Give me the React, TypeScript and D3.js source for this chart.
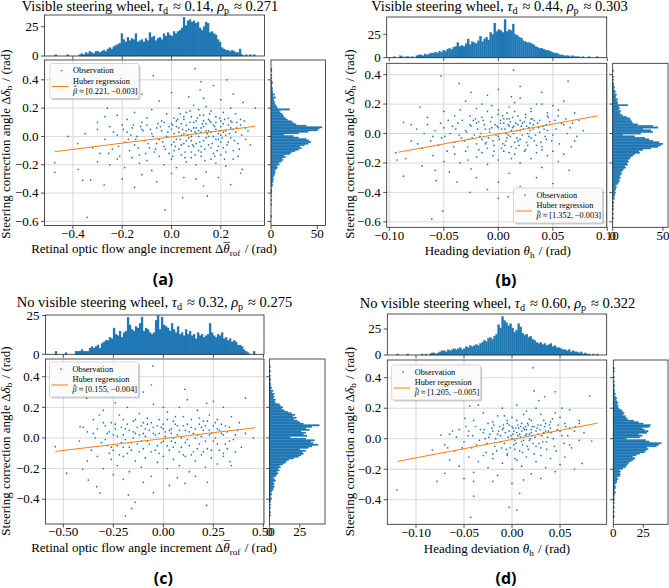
import React from 'react';
import * as d3 from 'd3';

const BLUE = '#1f77b4';
const ORANGE = '#ff7f0e';
const SERIF = '"Liberation Serif", "DejaVu Serif", serif';

const scatterA: [number, number][] = [
  [0.095,0.48],[-0.074,0.43],[0.224,0.40],[0.12,0.387],[-0.42,0.0],[0.34,0.2],[-0.26,0.2],[-0.473,-0.185],[-0.473,-0.253],[-0.378,-0.232],[-0.36,-0.31],[-0.328,-0.307],[-0.273,-0.343],[-0.342,-0.571],[-0.026,-0.52],[0.045,-0.432],[0.145,-0.42],[0.287,-0.232],[0.28,-0.26],
  [0.116,0.33],[0.17,0.36],[0.25,0.3],[0.07,0.28],[-0.12,0.3],[0.2,0.26],[0.29,0.24],[-0.05,0.25],[0.0,0.31],[0.13,0.27],
  [-0.22,0.15],[-0.18,0.12],[-0.15,0.17],[-0.1,0.13],[-0.08,0.19],[-0.04,0.11],[-0.02,0.16],[0.01,0.13],[0.03,0.2],[0.05,0.12],[0.06,0.17],[0.08,0.14],[0.1,0.11],[0.11,0.19],[0.13,0.15],[0.15,0.12],[0.16,0.18],[0.18,0.14],[0.2,0.11],[0.21,0.17],[0.23,0.13],[0.26,0.16],[0.28,0.12],[-0.3,0.1],[-0.27,0.14],[-0.12,0.1],[0.0,0.09],[0.09,0.22],[0.14,0.21],[0.24,0.2],
  [-0.38,-0.05],[-0.35,0.02],[-0.32,-0.08],[-0.3,0.05],[-0.29,-0.12],[-0.27,-0.02],[-0.25,0.07],[-0.24,-0.09],[-0.22,0.01],[-0.21,-0.14],[-0.2,0.08],[-0.19,-0.04],[-0.18,0.03],[-0.17,-0.1],[-0.16,0.06],[-0.15,-0.06],[-0.14,0.0],[-0.13,-0.13],[-0.12,0.05],[-0.11,-0.03],[-0.1,0.08],[-0.09,-0.08],[-0.08,0.02],[-0.07,-0.11],[-0.06,0.06],[-0.05,-0.02],[-0.04,0.04],[-0.03,-0.07],[-0.02,0.0],[-0.01,-0.12],[0.0,0.05],[0.01,-0.04],[0.02,0.07],[0.03,-0.09],[0.04,0.01],[0.05,-0.05],[0.06,0.08],[0.07,-0.01],[0.08,0.04],[0.09,-0.07],[0.1,0.02],[0.11,-0.1],[0.12,0.06],[0.13,-0.03],[0.14,0.09],[0.15,-0.06],[0.16,0.03],[0.17,-0.12],[0.18,0.05],[0.19,-0.02],[0.2,0.07],[0.21,-0.08],[0.22,0.01],[0.23,-0.04],[0.24,0.06],[0.25,-0.1],[0.26,0.03],[0.27,-0.05],[0.28,0.08],[0.3,-0.02],[0.31,0.04],[0.02,-0.02],[0.04,0.09],[0.06,-0.03],[0.08,0.0],[0.1,-0.05],[0.12,0.03],[0.14,-0.01],[0.16,-0.08],[0.18,0.1],[0.2,-0.04],[0.22,0.04],[0.03,0.03],[0.07,0.05],[0.11,0.0],[0.15,0.04],[0.19,0.02],[0.09,0.1],[0.13,0.07],[0.05,0.02],[-0.01,0.07],[-0.06,-0.05],[0.0,-0.06],[0.17,0.0],[0.21,0.09],[0.24,-0.01],[0.12,-0.07],[0.08,-0.11],[-0.03,0.1],[0.01,0.02],
  [-0.3,-0.18],[-0.25,-0.2],[-0.22,-0.16],[-0.19,-0.22],[-0.16,-0.15],[-0.13,-0.19],[-0.1,-0.17],[-0.08,-0.24],[-0.05,-0.14],[-0.03,-0.2],[0.0,-0.16],[0.02,-0.22],[0.04,-0.13],[0.06,-0.18],[0.08,-0.15],[0.1,-0.2],[0.12,-0.14],[0.14,-0.25],[0.16,-0.16],[0.18,-0.19],[0.2,-0.13],[0.22,-0.21],[0.25,-0.16],[0.27,-0.14],[-0.12,-0.27],[0.05,-0.29],[0.1,-0.3],[0.19,-0.29],[-0.2,-0.3],[-0.06,-0.32],[0.13,-0.35],[0.24,-0.34],[-0.15,-0.36],[0.0,-0.26],
  [0.005,0.08],[0.015,-0.07],[0.025,0.12],[0.035,-0.02],[0.045,0.05],[0.055,-0.11],[0.065,0.01],[0.075,0.1],[0.085,-0.06],[0.095,0.03],[0.105,0.13],[0.115,-0.04],[0.125,0.09],[0.135,-0.09],[0.145,0.02],[0.155,0.11],[0.165,-0.05],[0.175,0.07],[0.185,-0.1],[0.195,0.04],[0.205,-0.01],[0.215,0.12],[0.225,-0.06],[0.235,0.02],[0.245,0.1],[0.255,-0.03],[0.265,0.06],[0.275,-0.09],[0.285,0.01],[0.295,0.11],[0.01,-0.1],[0.03,0.06],[0.05,0.14],[0.07,-0.07],[0.09,0.06],[0.11,0.04],[0.13,0.11],[0.15,0.0],[0.17,0.08],[0.19,-0.07],[0.21,0.03],[0.23,0.08],[0.25,0.05],[0.02,0.11],[0.04,-0.06],[0.06,0.04],[0.08,-0.03],[0.1,0.06],[0.12,-0.11],[0.14,0.04],[0.16,0.1],[0.18,-0.02],[0.2,0.01],[0.22,-0.11],[0.24,0.11],[-0.015,0.03],[-0.035,-0.04],[-0.055,0.09],[-0.075,0.0],[-0.095,-0.05],[-0.115,0.04],[-0.135,-0.08],[-0.155,0.08],[-0.175,-0.02],[-0.195,0.05],[-0.215,-0.07],[-0.235,0.03],[-0.255,-0.12],[-0.045,0.07],[-0.065,-0.09],[-0.085,0.05],[-0.105,-0.12],[-0.125,0.07],[-0.145,-0.02],[-0.165,0.01],[0.035,0.16],[0.075,0.18],[0.115,0.15],[0.155,0.16],[0.195,0.13],[0.055,-0.15],[0.095,-0.13],[0.135,-0.17],[0.175,-0.14],[0.215,-0.16],[-0.025,-0.09],[0.005,-0.14],[0.265,0.1],[0.3,0.06],[0.32,-0.06],
];

const scatterB: [number, number][] = [
  [-0.0526,0.39],[0.014,0.43],[0.064,0.356],[-0.036,0.34],[-0.087,0.076],[-0.072,0.18],[-0.087,-0.29],[-0.058,-0.25],[-0.057,-0.32],[-0.051,-0.526],[-0.061,-0.58],[-0.026,-0.40],[0.0,-0.44],[0.009,-0.43],[0.067,-0.09],[0.05,-0.34],[-0.093,-0.18],[-0.094,-0.13],[0.04,0.2],
  [-0.03,0.22],[-0.01,0.26],[0.01,0.18],[0.02,0.24],[0.03,0.15],[0.0,0.13],[-0.02,0.17],[0.04,0.28],[0.05,0.19],[-0.04,0.12],[0.015,0.21],[-0.015,0.11],[0.025,0.13],[0.035,0.2],[0.045,0.12],[0.055,0.16],[-0.05,0.15],[-0.025,0.28],[0.0,0.3],[0.02,0.32],[0.01,0.1],[-0.006,0.19],[0.008,0.14],[0.03,0.1],[0.06,0.22],[-0.065,0.11],[-0.035,0.16],[0.07,0.14],[-0.01,0.15],[0.012,0.25],
  [-0.08,-0.05],[-0.075,0.03],[-0.07,-0.1],[-0.065,0.06],[-0.06,-0.02],[-0.055,-0.08],[-0.05,0.04],[-0.047,-0.12],[-0.044,0.0],[-0.04,-0.06],[-0.037,0.07],[-0.034,-0.03],[-0.03,0.02],[-0.028,-0.09],[-0.025,0.05],[-0.022,-0.01],[-0.02,-0.07],[-0.018,0.08],[-0.015,-0.04],[-0.012,0.03],[-0.01,-0.1],[-0.008,0.01],[-0.005,-0.05],[-0.003,0.06],[0.0,-0.02],[0.002,0.09],[0.004,-0.07],[0.006,0.03],[0.008,-0.03],[0.01,0.05],[0.012,-0.09],[0.014,0.0],[0.016,0.07],[0.018,-0.05],[0.02,0.02],[0.022,-0.01],[0.024,0.08],[0.026,-0.06],[0.028,0.04],[0.03,-0.03],[0.032,0.06],[0.035,-0.08],[0.038,0.01],[0.041,0.05],[0.044,-0.04],[0.047,0.08],[0.05,-0.01],[0.053,0.03],[0.056,-0.07],[0.06,0.06],[0.063,0.0],[0.066,0.04],[0.07,-0.05],[0.074,0.09],[0.078,0.02],[-0.006,0.04],[0.001,0.0],[0.005,0.07],[0.009,-0.01],[0.013,0.04],[0.017,0.02],[-0.013,0.06],[-0.017,-0.02],[-0.004,-0.08],[0.021,0.05],[0.027,0.0],[0.033,0.09],[-0.023,0.09],[-0.031,-0.05],[0.003,0.03],[-0.009,-0.03],[0.015,-0.06],[0.04,-0.09],[-0.042,0.05],[-0.052,-0.03],[0.045,0.02],[0.058,0.07],[0.011,0.08],[-0.001,0.05],[0.019,-0.08],[0.007,-0.05],[-0.019,0.03],[0.029,0.07],[0.037,0.04],[-0.027,-0.04],
  [-0.085,-0.17],[-0.07,-0.22],[-0.06,-0.15],[-0.05,-0.19],[-0.045,-0.26],[-0.04,-0.14],[-0.035,-0.2],[-0.03,-0.12],[-0.025,-0.24],[-0.02,-0.16],[-0.015,-0.13],[-0.01,-0.21],[-0.005,-0.15],[0.0,-0.18],[0.005,-0.12],[0.01,-0.27],[0.015,-0.14],[0.02,-0.2],[0.025,-0.11],[0.03,-0.17],[0.035,-0.13],[0.04,-0.23],[0.045,-0.15],[0.05,-0.12],[0.055,-0.19],[0.06,-0.14],[0.065,-0.25],[-0.02,-0.3],[0.0,-0.33],[0.02,-0.36],[-0.038,-0.33],[0.035,-0.3],[-0.01,-0.38],[0.012,-0.17],[-0.028,-0.18],
  [-0.029,0.01],[-0.026,0.06],[-0.024,-0.03],[-0.021,0.1],[-0.016,0.0],[-0.014,0.09],[-0.011,-0.06],[-0.007,0.08],[-0.002,-0.01],[0.0,0.04],[0.003,-0.1],[0.005,0.1],[0.007,0.0],[0.009,0.06],[0.011,-0.02],[0.013,0.11],[0.016,-0.1],[0.018,0.06],[0.02,-0.04],[0.023,0.03],[0.025,0.11],[0.027,-0.08],[0.029,0.02],[0.031,0.1],[0.034,-0.01],[0.036,0.07],[0.039,-0.06],[0.042,0.03],[0.046,0.11],[0.049,-0.05],[0.052,0.09],[-0.033,0.09],[-0.036,-0.01],[-0.039,0.03],[-0.041,-0.09],[-0.046,0.09],[-0.049,-0.02],[-0.053,0.07],[-0.058,0.02],[-0.062,-0.05],[-0.012,-0.07],[-0.006,0.11],[0.002,0.07],[0.008,0.1],[0.014,0.05],[0.02,0.09],[0.026,0.05],[0.032,0.03],[0.038,0.09],[0.044,0.06],[-0.02,0.07],[-0.008,0.03],[0.001,-0.04],[0.006,-0.08],[0.012,0.02],[0.017,-0.03],[0.022,0.07],[0.028,-0.02],[0.033,-0.05],[0.043,-0.02],[-0.018,-0.11],[-0.004,-0.12],[0.01,-0.13],[0.024,-0.12],[0.04,-0.11],[0.004,0.12],[0.018,0.12],[-0.026,0.12],[0.055,0.12],[0.062,0.1],[0.068,0.07],[0.072,-0.02],[-0.068,0.0],[-0.074,-0.07],[-0.08,0.06],[0.0,0.16],[0.015,0.15],[0.03,0.17],[-0.015,0.2],[0.045,0.14],
];

const scatterC: [number, number][] = [
  [-0.053,0.47],[-0.30,0.357],[-0.06,0.346],[0.108,0.318],[-0.383,0.26],[-0.258,0.31],[-0.1,0.3],[0.41,0.26],[0.217,0.227],[-0.416,0.074],
  [-0.54,-0.057],[-0.483,-0.23],[-0.403,-0.205],[-0.375,-0.275],[-0.333,-0.318],[-0.317,-0.36],[-0.175,-0.372],[-0.14,-0.42],[-0.19,-0.51],[-0.158,-0.46],[-0.05,-0.357],[0.217,-0.44],[0.108,-0.296],[0.333,-0.155],[0.45,0.0],[0.41,0.03],
  [-0.35,0.12],[-0.3,0.18],[-0.26,0.1],[-0.22,0.15],[-0.18,0.2],[-0.15,0.11],[-0.12,0.16],[-0.08,0.13],[-0.05,0.22],[-0.02,0.12],[0.02,0.17],[0.05,0.11],[0.08,0.2],[0.1,0.14],[0.14,0.12],[0.17,0.18],[0.2,0.11],[0.23,0.15],[0.27,0.12],[0.3,0.2],[0.34,0.14],[0.38,0.1],[-0.24,0.23],[0.12,0.25],[-0.1,0.1],[0.0,0.2],[0.25,0.24],[-0.32,0.15],[0.06,0.14],[-0.2,0.12],
  [-0.42,-0.02],[-0.38,0.04],[-0.36,-0.08],[-0.33,0.06],[-0.31,-0.03],[-0.29,0.08],[-0.27,-0.1],[-0.25,0.02],[-0.23,-0.05],[-0.21,0.07],[-0.19,-0.01],[-0.17,0.05],[-0.16,-0.08],[-0.14,0.03],[-0.13,-0.04],[-0.11,0.08],[-0.1,-0.07],[-0.09,0.01],[-0.07,0.05],[-0.06,-0.09],[-0.04,0.02],[-0.03,-0.05],[-0.01,0.07],[0.0,-0.02],[0.01,0.04],[0.03,-0.08],[0.04,0.06],[0.06,-0.03],[0.07,0.02],[0.09,-0.06],[0.1,0.08],[0.12,-0.01],[0.13,0.04],[0.15,-0.09],[0.16,0.06],[0.18,-0.04],[0.19,0.01],[0.21,0.08],[0.22,-0.07],[0.24,0.03],[0.25,-0.02],[0.27,0.06],[0.28,-0.08],[0.3,0.02],[0.31,-0.04],[0.33,0.07],[0.35,-0.01],[0.37,0.05],[0.39,-0.06],[-0.34,0.0],[-0.28,0.03],[-0.2,-0.06],[-0.15,0.0],[-0.08,-0.02],[-0.02,0.03],[0.02,-0.05],[0.08,0.05],[0.11,-0.03],[0.17,0.02],[0.2,-0.09],[0.26,0.0],[0.32,0.04],[-0.24,0.06],[-0.12,0.02],[0.05,0.0],[0.14,0.07],[-0.05,0.07],[0.23,0.05],[-0.18,0.09],[0.29,0.09],[-0.4,0.07],[0.36,-0.09],[0.0,0.09],[-0.26,-0.06],[0.18,0.09],
  [-0.38,-0.15],[-0.33,-0.12],[-0.3,-0.2],[-0.26,-0.14],[-0.23,-0.18],[-0.2,-0.12],[-0.17,-0.22],[-0.14,-0.15],[-0.11,-0.19],[-0.09,-0.13],[-0.06,-0.25],[-0.03,-0.16],[0.0,-0.12],[0.02,-0.2],[0.05,-0.14],[0.08,-0.18],[0.11,-0.12],[0.13,-0.22],[0.16,-0.15],[0.19,-0.11],[0.21,-0.19],[0.24,-0.13],[0.27,-0.17],[0.3,-0.12],[0.34,-0.18],[-0.2,-0.27],[0.07,-0.26],[-0.1,-0.29],[0.16,-0.25],[0.22,-0.29],[-0.25,-0.24],[0.03,-0.31],
  [-0.29,-0.01],[-0.27,0.04],[-0.25,-0.08],[-0.23,0.01],[-0.21,-0.03],[-0.19,0.06],[-0.17,-0.06],[-0.15,0.04],[-0.13,0.07],[-0.11,-0.02],[-0.09,0.06],[-0.07,-0.04],[-0.05,0.03],[-0.03,0.08],[-0.01,-0.03],[0.01,0.01],[0.03,0.05],[0.05,-0.06],[0.07,0.08],[0.09,0.0],[0.11,0.05],[0.13,-0.05],[0.15,0.03],[0.17,-0.07],[0.19,0.07],[0.21,-0.02],[0.23,0.02],[0.25,0.08],[0.27,-0.04],[0.29,0.03],[0.31,0.08],[0.33,-0.02],[-0.28,-0.05],[-0.24,0.09],[-0.2,0.02],[-0.16,-0.03],[-0.12,-0.09],[-0.08,0.09],[-0.04,-0.08],[0.0,0.06],[0.04,-0.02],[0.08,-0.09],[0.12,0.09],[0.16,0.0],[0.2,0.05],[0.24,-0.08],[0.28,0.05],[0.32,-0.07],[-0.3,0.1],[-0.18,-0.1],[-0.06,0.1],[0.06,0.09],[0.14,-0.11],[0.26,0.1],[-0.22,-0.11],[0.1,-0.11],[-0.14,0.12],[0.02,0.12],[0.18,0.13],[0.3,-0.1],[-0.35,0.03],[0.36,0.02],[-0.02,-0.1],[0.22,0.11],[-0.1,0.03],[0.04,0.03],
];

const scatterD: [number, number][] = [
  [0.022,0.466],[0.023,0.313],[0.045,0.308],[0.081,0.28],[0.034,0.275],[-0.044,0.214],[-0.049,0.134],[-0.074,0.024],[0.052,0.2],
  [-0.12,-0.336],[-0.078,-0.28],[-0.083,-0.074],[-0.07,-0.227],[-0.04,-0.376],[-0.043,-0.515],[-0.003,-0.45],[0.005,-0.468],[0.0,-0.293],[0.008,-0.358],[0.045,-0.216],[0.073,-0.162],[0.083,-0.015],[-0.04,-0.28],
  [-0.04,0.12],[-0.03,0.17],[-0.02,0.11],[-0.01,0.2],[0.0,0.14],[0.01,0.1],[0.015,0.18],[0.02,0.12],[0.03,0.16],[0.04,0.11],[0.05,0.14],[0.06,0.19],[-0.015,0.15],[0.005,0.22],[0.025,0.2],[0.035,0.1],[0.045,0.17],[-0.025,0.1],[-0.005,0.12],[0.07,0.12],[0.012,0.16],[-0.035,0.22],[0.055,0.1],[0.028,0.25],
  [-0.07,-0.04],[-0.065,0.03],[-0.06,-0.08],[-0.055,0.06],[-0.05,-0.02],[-0.046,0.02],[-0.042,-0.06],[-0.038,0.08],[-0.034,-0.01],[-0.03,0.04],[-0.027,-0.09],[-0.024,0.01],[-0.021,0.07],[-0.018,-0.05],[-0.015,0.03],[-0.012,-0.02],[-0.009,0.09],[-0.006,-0.07],[-0.003,0.05],[0.0,0.0],[0.002,-0.04],[0.004,0.07],[0.006,0.02],[0.008,-0.08],[0.01,0.05],[0.012,-0.01],[0.014,0.08],[0.016,-0.05],[0.018,0.03],[0.02,0.06],[0.022,-0.03],[0.024,0.01],[0.027,0.09],[0.03,-0.06],[0.033,0.04],[0.036,-0.02],[0.04,0.07],[0.043,0.0],[0.046,-0.08],[0.05,0.05],[0.054,-0.03],[0.058,0.02],[0.062,-0.06],[0.066,0.08],[0.07,-0.01],[0.075,0.04],[-0.01,0.06],[0.0,0.08],[0.005,0.04],[0.009,0.01],[0.013,0.06],[0.017,0.09],[0.001,0.03],[-0.004,0.01],[-0.008,-0.03],[0.011,-0.04],[0.019,0.0],[0.025,0.05],[-0.02,0.05],[-0.028,0.0],[0.031,0.02],[0.038,0.05],[-0.016,-0.08],[0.003,-0.01],[0.007,0.07],[-0.002,-0.06],[0.015,0.03],[0.021,0.08],[-0.013,0.08],[0.048,0.09],[-0.045,0.05],[0.06,0.07],
  [-0.065,-0.14],[-0.055,-0.18],[-0.045,-0.12],[-0.04,-0.22],[-0.035,-0.15],[-0.03,-0.11],[-0.025,-0.19],[-0.02,-0.13],[-0.015,-0.24],[-0.01,-0.16],[-0.005,-0.11],[0.0,-0.2],[0.005,-0.14],[0.01,-0.18],[0.015,-0.12],[0.02,-0.23],[0.025,-0.15],[0.03,-0.11],[0.035,-0.19],[0.04,-0.13],[0.05,-0.17],[0.055,-0.12],[0.065,-0.2],[-0.02,-0.28],[0.012,-0.27],[-0.05,-0.26],[0.03,-0.26],[0.003,-0.13],
  [-0.029,0.06],[-0.026,-0.03],[-0.023,0.03],[-0.019,0.09],[-0.017,0.0],[-0.014,0.05],[-0.011,-0.06],[-0.007,0.04],[-0.005,0.1],[-0.001,0.02],[0.001,0.07],[0.003,-0.07],[0.006,0.09],[0.008,0.03],[0.01,-0.02],[0.012,0.07],[0.014,0.02],[0.016,0.1],[0.018,-0.01],[0.02,0.04],[0.023,0.08],[0.025,-0.05],[0.027,0.03],[0.029,0.06],[0.032,-0.02],[0.034,0.08],[0.037,0.01],[0.041,0.04],[0.044,-0.05],[0.047,0.06],[0.052,0.02],[0.056,0.08],[-0.033,0.06],[-0.037,-0.04],[-0.041,0.02],[-0.048,0.08],[-0.052,-0.06],[-0.058,0.01],[0.002,0.05],[0.009,0.08],[0.015,0.06],[0.021,0.02],[0.026,0.07],[0.03,0.09],[0.035,0.05],[0.039,0.09],[-0.003,0.09],[-0.009,0.07],[-0.012,0.02],[0.004,-0.03],[0.011,-0.09],[0.017,-0.07],[0.023,-0.1],[0.028,-0.03],[0.036,-0.07],[-0.005,-0.1],[-0.02,-0.1],[0.005,0.12],[0.018,0.13],[0.033,0.12],[-0.008,0.15],[0.042,0.13],[0.06,-0.04],[0.065,0.05],[0.07,0.1],[-0.062,0.05],[-0.067,-0.06],
];

// ---- marginal histogram counts (100 bins each) ----
const topA = [1,0,0,0,0,0,1,0,0,0, 0,0,1,2,1,3,2,4,3,2, 4,4,3,4,5,4,6,7,6,8, 9,10,11,19,14,12,16,13,15,14, 19,12,13,14,12,15,13,20,16,17, 13,15,16,14,19,17,20,18,17,21, 19,21,22,24,33,26,30,31,29,30, 28,29,24,22,25,29,28,20,21,19, 18,14,12,7,6,5,5,4,5,4, 3,3,6,1,0,1,0,1,0,1];
const rightA = [1,0,0,0,0,0,0,0,1,0, 0,1,0,0,1,0,1,1,1,0, 1,2,1,2,2,3,2,3,4,4, 5,4,6,7,6,9,8,11,13,12, 16,14,20,22,26,30,33,31,36,40, 43,41,38,30,24,14,30,40,50,52, 55,38,27,24,22,18,16,14,13,12, 10,9,20,7,6,5,4,4,3,3, 5,2,4,2,2,1,2,1,1,1, 2,1,0,1,0,1,0,0,1,1];
const topB = [1,0,0,2,1,0,1,1,0,1, 0,2,3,3,2,4,3,4,5,5, 6,5,7,6,8,7,9,10,9,11, 12,16,12,13,12,15,20,14,17,16, 15,18,23,17,20,22,19,27,25,37, 28,30,29,27,41,28,30,29,36,25, 24,22,21,18,17,16,16,15,14,12, 11,10,10,9,8,8,7,6,5,5, 4,3,3,2,2,2,1,2,1,1, 1,0,1,0,0,1,0,0,0,1];
const rightB = [1,0,0,1,0,0,1,0,1,0, 1,1,0,2,1,2,2,3,2,3, 3,4,3,5,6,7,6,8,7,8, 9,8,10,11,13,12,15,14,16,15, 17,18,20,22,27,26,30,38,45,48, 50,46,40,36,32,22,10,28,40,38, 30,45,40,25,20,19,18,17,14,10, 8,7,8,6,7,6,15,5,5,4, 5,3,3,4,2,3,2,1,2,1, 1,1,0,1,0,1,0,0,0,1];
const topC = [2,0,0,0,0,1,0,0,0,0, 2,2,2,3,2,2,2,4,5,4, 5,6,4,7,8,9,9,11,10,17, 13,12,15,11,14,15,24,19,16,15, 18,17,20,24,15,17,16,14,13,14, 22,25,16,24,19,18,17,15,20,16, 14,18,13,14,12,16,13,15,12,13, 10,14,12,13,11,12,13,20,14,12, 11,13,12,14,10,11,9,10,8,9, 8,6,6,5,3,2,1,0,0,2];
const rightC = [1,0,1,0,0,1,0,1,0,1, 1,2,1,1,2,1,2,3,3,4, 3,4,3,5,4,3,5,6,7,6, 8,7,9,8,11,13,14,16,20,24, 26,28,27,30,25,32,35,40,36,34, 37,30,17,31,28,30,26,33,30,35, 41,28,25,23,20,22,19,21,18,15, 12,10,11,9,8,5,4,5,3,4, 3,4,2,3,1,2,1,1,1,0, 1,1,0,1,0,0,1,0,0,1];
const topD = [1,0,0,0,0,1,0,0,0,0, 0,0,1,0,1,0,1,2,2,1, 2,3,4,4,3,5,4,5,6,5, 6,7,5,6,8,7,9,8,9,10, 9,11,12,14,13,16,17,15,18,20, 29,26,37,33,31,28,30,26,22,24, 30,27,21,19,20,17,18,15,14,12, 11,12,10,11,9,10,11,8,9,7, 7,6,5,5,4,5,3,4,3,3, 2,3,1,2,1,1,0,1,0,1];
const rightD = [1,0,0,1,0,0,1,0,0,1, 0,1,1,0,1,1,2,1,1,2, 2,1,2,3,3,4,3,5,6,5, 6,5,8,10,11,12,13,15,17,18, 16,19,22,26,27,29,28,36,38,40, 30,27,11,22,24,21,28,29,26,24, 30,31,25,21,17,12,11,10,8,9, 8,7,5,4,4,3,4,3,2,3, 2,1,2,1,1,1,0,1,1,0, 1,0,0,1,0,0,0,1,0,1];

// Huber regression coefficients [slope, intercept]
const betaA = [0.221, -0.003];
const betaB = [1.352, -0.003];
const betaC = [0.155, -0.004];
const betaD = [1.205, -0.005];

const ticksRof = [-0.4, -0.2, 0, 0.2];
const ticksRofC = [-0.5, -0.25, 0, 0.25, 0.5];
const ticksHeadB = [-0.1, -0.05, 0, 0.05, 0.1];
const ticksHeadD = [-0.1, -0.05, 0, 0.05];
const ticksYab = [-0.6, -0.4, -0.2, 0, 0.2, 0.4];
const ticksYcd = [-0.4, -0.2, 0, 0.2, 0.4];

const panels = [
  { id: 'a', pts: scatterA, top: topA, topRange: [-0.473, 0.339], right: rightA, rightRange: [-0.571, 0.48],
    beta: betaA, lineX: [-0.473, 0.339], xDom: [-0.515, 0.377], yDom: [-0.629, 0.54],
    L: 44.5, R: 264.5, T: 60, B: 225.5, hT: 15, hB: 56, rL: 271, rR: 325.5, topMax: 35, rightMax: 58.8,
    xTicks: ticksRof, xFmt: '.1f', yTicks: ticksYab, topTicks: [0, 25], rightTicks: [0, 50],
    vis: 'Visible steering wheel', tau: '0.14', rho: '0.271', title: [150, 10.5], xl: 'rof', xlab: [154, 253.3], ylab: [9.5, 144],
    cap: [163, 284.5], leg: [50, 63.5] },
  { id: 'b', pts: scatterB, top: topB, topRange: [-0.0963, 0.0917], right: rightB, rightRange: [-0.58, 0.43],
    beta: betaB, lineX: [-0.0917, 0.0912], xDom: [-0.1024, 0.0994], yDom: [-0.637, 0.477],
    L: 386.7, R: 606.7, T: 63.3, B: 227.3, hT: 17, hB: 57.7, rL: 612.7, rR: 668, topMax: 43.5, rightMax: 55,
    xTicks: ticksHeadB, xFmt: '.2f', yTicks: ticksYab, topTicks: [0, 25], rightTicks: [0, 50],
    vis: 'Visible steering wheel', tau: '0.44', rho: '0.303', title: [499.5, 10.5], xl: 'h', xlab: [497.8, 255], ylab: [353.5, 144],
    cap: [506, 285.5], leg: [513.5, 188] },
  { id: 'c', pts: scatterC, top: topC, topRange: [-0.5415, 0.4585], right: rightC, rightRange: [-0.51, 0.47],
    beta: betaC, lineX: [-0.54, 0.458], xDom: [-0.589, 0.503], yDom: [-0.562, 0.516],
    L: 45.5, R: 264, T: 359, B: 524, hT: 315, hB: 354.3, rL: 269.5, rR: 325, topMax: 25.4, rightMax: 45.8,
    xTicks: ticksRofC, xFmt: '.2f', yTicks: ticksYcd, topTicks: [0, 25], rightTicks: [0, 25],
    vis: 'No visible steering wheel', tau: '0.32', rho: '0.275', title: [154.5, 307], xl: 'rof', xlab: [154, 551.7], ylab: [9.5, 441],
    cap: [163.3, 583.5], leg: [49.5, 362] },
  { id: 'd', pts: scatterD, top: topD, topRange: [-0.12, 0.0899], right: rightD, rightRange: [-0.515, 0.466],
    beta: betaD, lineX: [-0.1195, 0.0893], xDom: [-0.1299, 0.0986], yDom: [-0.561, 0.516],
    L: 387.3, R: 606.7, T: 360, B: 524.3, hT: 314, hB: 355, rL: 613.3, rR: 668, topMax: 39.4, rightMax: 45.6,
    xTicks: ticksHeadD, xFmt: '.2f', yTicks: ticksYcd, topTicks: [0, 25], rightTicks: [0, 25],
    vis: 'No visible steering wheel', tau: '0.60', rho: '0.322', title: [497.5, 308], xl: 'h', xlab: [497, 552.7], ylab: [353.5, 441.5],
    cap: [506, 583.5], leg: [391.7, 365] },
];

const SPINE = '#262626';
const GRID = '#cfcfcf';
const TICK = 3.5;
const FS = 13;

// italic symbol (optionally with an accent on top) followed by an upright subscript
function Sub({ s, sub, fs, acc }: { s: string; sub: string; fs: number; acc?: string }) {
  const d = fs * 0.22;
  const up = fs * 0.12;
  return (
    <>
      <tspan fontStyle="italic">{s}</tspan>
      {acc && <tspan dx={-0.47 * fs} dy={-up}>{acc}</tspan>}
      <tspan fontSize={fs * 0.7} dy={d + (acc ? up : 0)} dx={acc ? -0.02 * fs : 0}>{sub}</tspan>
      <tspan dy={-d}>{'\u200a'}</tspan>
    </>
  );
}

function Panel({ p }: { p: any }) {
  const x = d3.scaleLinear().domain(p.xDom).range([p.L, p.R]);
  const y = d3.scaleLinear().domain(p.yDom).range([p.B, p.T]);
  const yh = d3.scaleLinear().domain([0, p.topMax]).range([p.hB, p.hT]);
  const xh = d3.scaleLinear().domain([0, p.rightMax]).range([p.rL, p.rR]);
  const xf = d3.format(p.xFmt);
  const yf = d3.format('.1f');
  const tbw = (p.topRange[1] - p.topRange[0]) / p.top.length;
  const rbw = (p.rightRange[1] - p.rightRange[0]) / p.right.length;
  const line = d3.line<number>().x(v => x(v)).y(v => y(p.beta[0] * v + p.beta[1]));
  const bf = d3.format('.3f');
  const [lx, ly] = p.leg;
  const lfs = 8.3;

  return (
    <g>
      {/* title */}
      <text x={p.title[0]} y={p.title[1]} textAnchor="middle" fontSize={14.5} fontFamily={SERIF}>
        {p.vis + ', '}<Sub s="τ" sub="d" fs={14.5} />{' ≈ ' + p.tau + ', '}<Sub s="ρ" sub="p" fs={14.5} />{' ≈ ' + p.rho}
      </text>

      {/* main scatter axes */}
      {p.xTicks.map((t: number) => (
        <line key={'gx' + t} x1={x(t)} x2={x(t)} y1={p.T} y2={p.B} stroke={GRID} strokeWidth={0.8} />
      ))}
      {p.yTicks.map((t: number) => (
        <line key={'gy' + t} x1={p.L} x2={p.R} y1={y(t)} y2={y(t)} stroke={GRID} strokeWidth={0.8} />
      ))}
      {p.pts.map((d: [number, number], i: number) => (
        <circle key={i} cx={x(d[0])} cy={y(d[1])} r={0.85} fill={BLUE} />
      ))}
      <path d={line(p.lineX) || ''} stroke={ORANGE} strokeWidth={1} fill="none" />
      <rect x={p.L} y={p.T} width={p.R - p.L} height={p.B - p.T} fill="none" stroke={SPINE} strokeWidth={0.8} />
      {p.xTicks.map((t: number) => (
        <g key={'tx' + t}>
          <line x1={x(t)} x2={x(t)} y1={p.B} y2={p.B + TICK} stroke={SPINE} strokeWidth={0.8} />
          <text x={x(t)} y={p.B + 12.3} textAnchor="middle" fontSize={FS} fontFamily={SERIF}>{xf(t)}</text>
          <line x1={x(t)} x2={x(t)} y1={p.hB} y2={p.hB + TICK} stroke={SPINE} strokeWidth={0.8} />
        </g>
      ))}
      {p.yTicks.map((t: number) => (
        <g key={'ty' + t}>
          <line x1={p.L - TICK} x2={p.L} y1={y(t)} y2={y(t)} stroke={SPINE} strokeWidth={0.8} />
          <text x={p.L - TICK - 2.5} y={y(t)} dy="0.33em" textAnchor="end" fontSize={FS} fontFamily={SERIF}>{yf(t)}</text>
          <line x1={p.rL - TICK} x2={p.rL} y1={y(t)} y2={y(t)} stroke={SPINE} strokeWidth={0.8} />
        </g>
      ))}

      {/* top histogram */}
      {p.top.map((c: number, i: number) => c > 0 && (
        <rect key={'ht' + i} x={x(p.topRange[0] + i * tbw)} width={x(p.topRange[0] + (i + 1) * tbw) - x(p.topRange[0] + i * tbw)}
          y={yh(c)} height={yh(0) - yh(c)} fill={BLUE} stroke={BLUE} strokeWidth={0.3} />
      ))}
      <rect x={p.L} y={p.hT} width={p.R - p.L} height={p.hB - p.hT} fill="none" stroke={SPINE} strokeWidth={0.8} />
      {p.topTicks.map((t: number) => (
        <g key={'tt' + t}>
          <line x1={p.L - TICK} x2={p.L} y1={yh(t)} y2={yh(t)} stroke={SPINE} strokeWidth={0.8} />
          <text x={p.L - TICK - 2.5} y={yh(t)} dy="0.33em" textAnchor="end" fontSize={FS} fontFamily={SERIF}>{t}</text>
        </g>
      ))}

      {/* right histogram */}
      {p.right.map((c: number, i: number) => c > 0 && (
        <rect key={'hr' + i} x={xh(0)} width={xh(c) - xh(0)}
          y={y(p.rightRange[0] + (i + 1) * rbw)} height={y(p.rightRange[0] + i * rbw) - y(p.rightRange[0] + (i + 1) * rbw)}
          fill={BLUE} stroke={BLUE} strokeWidth={0.3} />
      ))}
      <rect x={p.rL} y={p.T} width={p.rR - p.rL} height={p.B - p.T} fill="none" stroke={SPINE} strokeWidth={0.8} />
      {p.rightTicks.map((t: number) => (
        <g key={'rt' + t}>
          <line x1={xh(t)} x2={xh(t)} y1={p.B} y2={p.B + TICK} stroke={SPINE} strokeWidth={0.8} />
          <text x={xh(t)} y={p.B + 12.3} textAnchor="middle" fontSize={FS} fontFamily={SERIF}>{t}</text>
        </g>
      ))}

      {/* legend */}
      <g fontFamily={SERIF} fontSize={lfs}>
        <rect x={lx + 1.5} y={ly + 1.5} width={89} height={35} rx={2} fill="#000" opacity={0.2} />
        <rect x={lx} y={ly} width={89} height={35} rx={2} fill="#fff" fillOpacity={0.92} stroke="#cccccc" strokeWidth={0.8} />
        <circle cx={lx + 11.5} cy={ly + 7} r={0.85} fill={BLUE} />
        <text x={lx + 23} y={ly + 7} dy="0.33em">Observation</text>
        <line x1={lx + 2} x2={lx + 18.5} y1={ly + 23} y2={ly + 23} stroke={ORANGE} strokeWidth={1} />
        <text x={lx + 23} y={ly + 17.5} dy="0.33em">Huber regression</text>
        <text x={lx + 23} y={ly + 27.5} dy="0.33em">
          <tspan fontStyle="italic">β</tspan>
          <tspan dx={-0.42 * lfs} dy={-0.18 * lfs}>ˆ</tspan>
          <tspan dx={0.09 * lfs} dy={0.18 * lfs}>{' ≈ [' + bf(p.beta[0]) + ', ' + bf(p.beta[1]) + ']'}</tspan>
        </text>
      </g>

      {/* axis labels */}
      <text x={p.xlab[0]} y={p.xlab[1]} textAnchor="middle" fontSize={FS} fontFamily={SERIF}>
        {p.xl === 'rof'
          ? <>{'Retinal optic flow angle increment Δ'}<Sub s="θ" acc="¯" sub="rof" fs={FS} />{' / (rad)'}</>
          : <>{'Heading deviation '}<Sub s="θ" sub="h" fs={FS} />{' / (rad)'}</>}
      </text>
      <text transform={`translate(${p.ylab[0]},${p.ylab[1]}) rotate(-90)`} textAnchor="middle" fontSize={FS} fontFamily={SERIF}>
        {'Steering correction angle Δ'}<Sub s="δ" sub="b" fs={FS} />{' / (rad)'}
      </text>

      <text x={p.cap[0]} y={p.cap[1]} textAnchor="middle" fontSize={16} fontWeight="bold" fontFamily='"Open Sans", "DejaVu Sans", sans-serif'>
        ({p.id})
      </text>
    </g>
  );
}

export default function App() {
  return (
    <svg width={669} height={588} style={{ position: 'absolute', left: 0, top: 0, background: '#fff' }}>
      <rect width={669} height={588} fill="#fff" />
      {panels.map(p => <Panel key={p.id} p={p} />)}
    </svg>
  );
}
